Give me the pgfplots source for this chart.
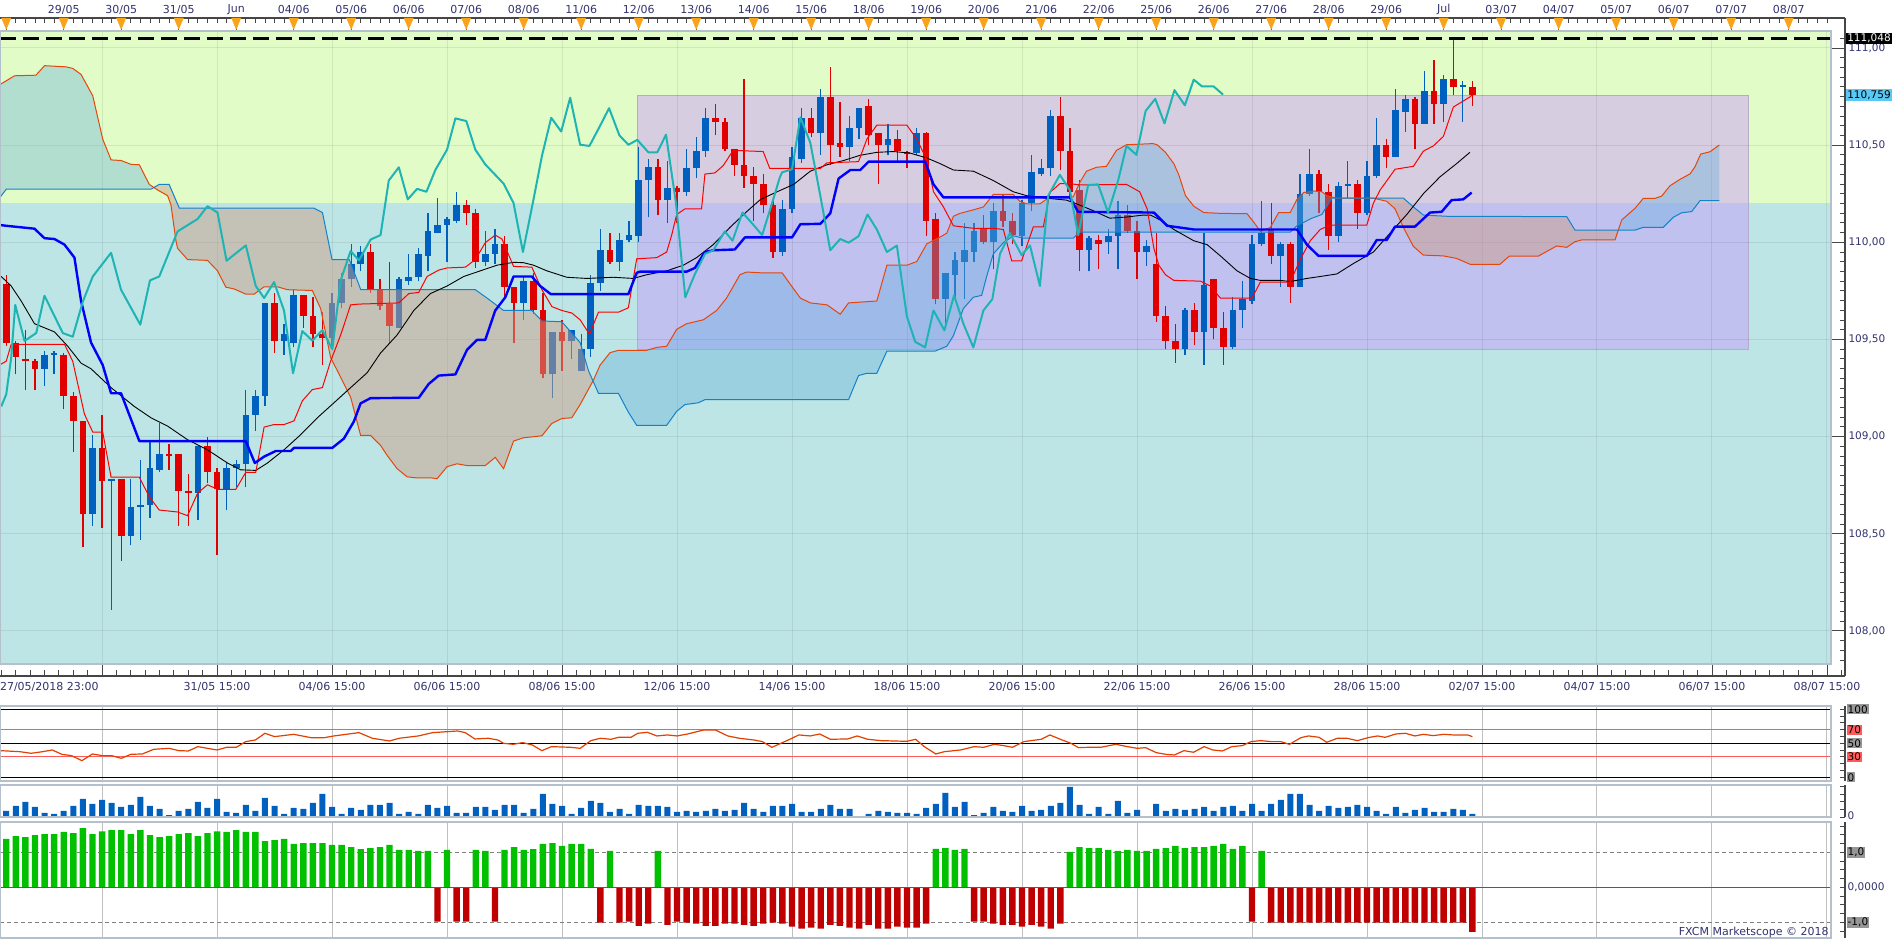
\documentclass[border=0pt]{standalone}
\usepackage{fontspec}
\setmainfont{DejaVu Sans}
\usepackage{pgfplots}
\usepackage{pgfplotstable}
\pgfplotsset{compat=1.18}
\definecolor{bgG}{RGB}{226,252,200}
\definecolor{bgC}{RGB}{189,229,229}
\definecolor{purp}{RGB}{200,150,255}
\definecolor{purpEdge}{RGB}{180,172,200}
\definecolor{bull}{RGB}{0,96,192}
\definecolor{bear}{RGB}{224,0,0}
\definecolor{tenkan}{RGB}{255,0,0}
\definecolor{kijun}{RGB}{0,0,255}
\definecolor{chikou}{RGB}{30,180,180}
\definecolor{spanO}{RGB}{230,70,10}
\definecolor{spanA}{RGB}{20,130,200}
\definecolor{cloudG}{RGB}{100,175,220}
\definecolor{cloudT}{RGB}{203,159,139}
\definecolor{navy}{RGB}{50,50,110}
\definecolor{frameC}{RGB}{180,192,204}
\definecolor{axisC}{RGB}{70,70,70}
\definecolor{rsiC}{RGB}{224,64,0}
\definecolor{histG}{RGB}{0,192,0}
\definecolor{histR}{RGB}{192,0,0}
\definecolor{lblBlue}{RGB}{90,200,245}
\definecolor{lblGray}{RGB}{150,150,150}
\definecolor{lblRed}{RGB}{255,90,90}
\definecolor{vgrid}{RGB}{192,192,192}
\definecolor{trif}{RGB}{248,163,28}
\newcommand{\lbl}{\fontsize{10.5}{12}\selectfont}

\pgfplotsset{cbase/.style={scale only axis, width=1845pt, xmin=-0.65, xmax=191.88,
  anchor=south west, clip=false,
  axis line style={axisC, line width=1.3pt},
  tick style={axisC, line width=0.9pt},
  tick align=inside,
  every tick label/.append style={font=\lbl, text=navy},
  /pgf/number format/assume math mode=true},
  nolabels/.style={yticklabels={,,,,,,,,,,,,,,,}},
  candle/.style={only marks, mark size=0pt, mark options={draw=none, fill=none}, forget plot}}

% candles: i open high low close
\pgfplotstableread{
i o h l c
4 109.35 109.44 109.26 109.42
5 109.42 109.44 109.32 109.43
9 108.60 109.01 108.54 108.94
11 108.77 108.78 108.11 108.78
13 108.49 108.78 108.44 108.64
14 108.64 108.88 108.47 108.65
15 108.65 108.98 108.58 108.84
16 108.83 109.07 108.82 108.91
20 108.71 108.95 108.57 108.95
23 108.73 108.87 108.62 108.84
24 108.84 108.88 108.74 108.86
25 108.86 109.24 108.74 109.11
26 109.11 109.24 109.03 109.21
27 109.21 109.69 109.16 109.69
29 109.49 109.58 109.42 109.53
30 109.48 109.76 109.46 109.73
34 109.51 109.74 109.47 109.69
35 109.69 109.84 109.66 109.81
36 109.81 109.99 109.77 109.89
37 109.89 109.98 109.85 109.95
41 109.56 109.82 109.56 109.81
42 109.80 109.94 109.78 109.82
43 109.82 109.97 109.80 109.94
44 109.93 110.15 109.85 110.06
45 110.05 110.23 110.05 110.09
46 110.09 110.13 109.90 110.12
47 110.11 110.26 110.10 110.19
50 109.90 110.06 109.88 109.94
51 109.94 110.07 109.89 109.99
54 109.69 109.82 109.60 109.80
57 109.32 109.54 109.20 109.54
59 109.49 109.55 109.40 109.55
60 109.34 109.53 109.34 109.45
61 109.45 109.83 109.41 109.79
62 109.79 110.07 109.75 109.96
64 109.90 110.05 109.85 110.01
65 110.01 110.11 110.00 110.04
66 110.03 110.49 110.00 110.32
67 110.32 110.43 110.13 110.39
69 110.22 110.42 110.10 110.28
71 110.26 110.48 110.24 110.38
72 110.38 110.54 110.33 110.47
73 110.47 110.69 110.44 110.64
81 109.95 110.22 109.93 110.17
82 110.17 110.49 110.15 110.44
83 110.43 110.69 110.41 110.64
85 110.56 110.79 110.45 110.75
88 110.49 110.65 110.42 110.59
89 110.59 110.69 110.53 110.69
92 110.50 110.61 110.45 110.53
95 110.46 110.59 110.45 110.56
98 109.71 109.84 109.56 109.84
99 109.83 109.95 109.72 109.91
100 109.90 110.10 109.71 109.96
101 109.95 110.10 109.90 110.06
103 110.00 110.20 109.86 110.16
106 110.03 110.22 109.98 110.20
107 110.20 110.45 110.16 110.36
108 110.35 110.43 110.34 110.38
109 110.38 110.68 110.34 110.65
113 109.96 110.03 109.85 110.02
115 110.00 110.07 109.94 110.03
116 110.03 110.21 109.86 110.14
119 109.95 110.01 109.88 109.98
123 109.45 109.66 109.42 109.65
125 109.54 110.05 109.37 109.78
128 109.46 109.72 109.45 109.65
129 109.65 109.80 109.56 109.71
130 109.70 110.04 109.68 109.99
131 109.99 110.21 109.98 110.05
133 109.93 110.00 109.77 109.99
135 109.77 110.35 109.77 110.25
136 110.25 110.48 110.24 110.35
139 110.03 110.31 110.00 110.29
140 110.29 110.42 110.23 110.30
142 110.15 110.42 110.14 110.34
143 110.34 110.64 110.33 110.50
145 110.44 110.79 110.44 110.68
146 110.67 110.76 110.57 110.74
148 110.61 110.88 110.61 110.78
150 110.71 110.86 110.62 110.84
152 110.80 110.83 110.62 110.805
}\bulltab
\pgfplotstableread{
i o h l c
0 109.785 109.83 109.465 109.48
1 109.48 109.49 109.32 109.41
2 109.40 109.55 109.24 109.39
3 109.39 109.40 109.24 109.35
6 109.42 109.43 109.14 109.21
7 109.21 109.23 108.92 109.08
8 109.08 109.08 108.43 108.60
10 108.94 109.11 108.53 108.77
12 108.78 108.78 108.36 108.49
17 108.91 108.96 108.83 108.90
18 108.91 108.91 108.54 108.72
19 108.72 108.81 108.54 108.71
21 108.95 109.00 108.76 108.82
22 108.82 108.84 108.39 108.73
28 109.69 109.74 109.43 109.49
31 109.73 109.73 109.56 109.62
32 109.62 109.72 109.46 109.53
33 109.53 109.64 109.37 109.51
38 109.95 109.99 109.74 109.76
39 109.76 109.81 109.65 109.67
40 109.68 109.90 109.48 109.57
48 110.19 110.22 110.09 110.15
49 110.15 110.17 109.87 109.90
52 109.99 110.03 109.72 109.77
53 109.77 109.77 109.48 109.69
55 109.80 109.84 109.63 109.65
56 109.65 109.74 109.30 109.32
58 109.54 109.60 109.34 109.49
63 109.96 110.05 109.89 109.90
68 110.39 110.43 110.14 110.22
70 110.28 110.29 110.10 110.26
74 110.64 110.71 110.55 110.62
75 110.62 110.64 110.47 110.48
76 110.48 110.48 110.34 110.40
77 110.40 110.84 110.28 110.34
78 110.34 110.39 110.11 110.30
79 110.30 110.35 110.15 110.19
80 110.19 110.21 109.92 109.95
84 110.64 110.69 110.54 110.56
86 110.75 110.90 110.40 110.50
87 110.51 110.72 110.44 110.49
90 110.70 110.74 110.50 110.55
91 110.56 110.56 110.30 110.50
93 110.53 110.58 110.42 110.47
94 110.46 110.47 110.38 110.455
96 110.56 110.57 110.03 110.11
97 110.12 110.15 109.68 109.71
102 110.07 110.14 109.99 110.00
104 110.16 110.25 110.08 110.11
105 110.11 110.15 109.99 110.04
110 110.65 110.75 110.37 110.47
111 110.47 110.59 110.23 110.26
112 110.27 110.32 109.85 109.96
114 110.01 110.04 109.86 109.99
117 110.14 110.19 110.05 110.06
118 110.06 110.11 109.81 109.95
120 109.89 110.05 109.59 109.62
121 109.62 109.67 109.45 109.49
122 109.49 109.58 109.38 109.45
124 109.65 109.69 109.47 109.54
126 109.81 109.81 109.50 109.56
127 109.56 109.64 109.37 109.46
132 110.07 110.20 109.89 109.93
134 109.99 110.00 109.69 109.77
137 110.35 110.37 110.15 110.26
138 110.26 110.30 109.96 110.03
141 110.30 110.32 110.07 110.15
144 110.50 110.53 110.38 110.44
147 110.74 110.75 110.48 110.61
149 110.78 110.94 110.61 110.71
151 110.84 111.05 110.76 110.80
153 110.80 110.83 110.70 110.76
}\beartab

\pgfplotstableread{
i p
-0.65 110.812
0.87 110.857
3.1 110.860
4.0 110.909
6.25 110.903
6.94 110.895
7.81 110.864
9.03 110.754
10.07 110.531
10.94 110.424
11.98 110.421
13.02 110.401
13.89 110.399
14.93 110.298
15.80 110.269
16.84 110.240
17.19 110.192
17.71 110.008
17.88 109.969
18.92 109.911
21.0 109.907
22.05 109.853
22.92 109.769
23.78 109.760
25.0 109.733
25.87 109.733
26.91 109.771
28.3 109.771
29.34 109.756
31.94 109.752
32.81 109.659
33.85 109.407
34.55 109.339
35.94 109.203
36.98 109.006
38.02 109.006
39.06 108.955
39.75 108.903
40.79 108.835
41.83 108.793
42.88 108.787
44.44 108.787
44.96 108.783
46.0 108.845
47.04 108.860
48.08 108.851
49.99 108.851
51.03 108.893
51.90 108.835
52.94 108.977
53.99 108.994
55.9 109.004
56.94 109.068
57.98 109.093
59.02 109.097
59.89 109.165
61.28 109.291
61.97 109.368
63.01 109.432
63.88 109.444
66.83 109.444
67.88 109.459
68.92 109.465
69.96 109.552
71.0 109.581
72.74 109.601
74.13 109.649
75.17 109.713
76.56 109.833
77.25 109.847
78.7 109.843
80.96 109.843
82.17 109.760
82.87 109.713
83.91 109.688
85.65 109.678
87.03 109.630
87.9 109.688
90.85 109.698
91.9 109.882
93.98 109.882
95.02 109.901
96.06 109.992
97.45 110.027
98.15 110.047
98.84 110.134
99.53 110.149
100.92 110.167
101.97 110.182
103.0 110.246
105.09 110.246
105.78 110.211
106.48 110.198
107.87 110.198
108.91 110.234
111.34 110.234
112.03 110.308
112.73 110.366
113.77 110.386
114.81 110.391
115.85 110.473
116.9 110.502
119.67 110.508
120.1 110.502
120.97 110.463
121.84 110.405
122.36 110.347
123.06 110.240
123.92 110.186
124.97 110.153
126.70 110.149
129.48 110.147
130.17 110.105
130.87 110.056
131.91 110.076
132.78 110.153
133.99 110.153
134.69 110.221
135.38 110.256
136.42 110.264
137.29 110.260
137.81 110.240
138.85 110.227
142.67 110.227
144.06 110.211
144.93 110.172
145.80 110.076
146.84 109.979
147.88 109.934
149.97 109.930
151.35 109.917
152.75 109.887
155.88 109.887
156.85 109.929
159.88 109.929
161.79 109.981
162.84 109.974
163.70 110.003
164.40 110.012
167.88 110.012
168.58 110.115
169.97 110.175
170.83 110.226
172.05 110.226
172.75 110.238
173.62 110.291
174.66 110.324
175.71 110.352
176.23 110.389
176.82 110.454
177.79 110.466
178.77 110.501
}\spanOtab

\pgfplotstableread{
i p
-0.65 110.231
0 110.273
15.1 110.273
15.97 110.298
17.0 110.298
18.06 110.176
32.1 110.176
33.0 110.153
34.0 109.911
35.8 109.911
37.0 109.756
48.95 109.756
50.17 109.713
51.90 109.649
54.85 109.649
55.9 109.595
57.98 109.591
59.89 109.484
60.76 109.339
61.80 109.223
63.88 109.223
64.92 109.126
65.79 109.058
68.92 109.058
69.96 109.130
70.83 109.165
72.22 109.174
72.91 109.190
87.9 109.190
88.94 109.314
89.81 109.326
90.85 109.326
91.9 109.440
96.93 109.440
98.15 109.465
98.84 109.519
99.88 109.659
100.92 109.717
101.79 109.727
102.31 109.824
103.0 109.940
104.05 109.998
105.09 110.033
106.13 110.021
111.34 110.021
112.03 110.052
133.99 110.052
134.69 110.085
136.25 110.124
137.29 110.143
138.33 110.227
145.8 110.227
146.84 110.182
147.88 110.140
150.31 110.134
162.84 110.132
163.70 110.063
169.97 110.063
170.83 110.077
172.92 110.077
173.97 110.129
174.84 110.152
175.88 110.158
176.75 110.214
178.77 110.214
}\spanAtab

\pgfplotstableread{
i p
-0.65 109.37
0 109.388
0.52 109.475
6.08 109.475
6.94 109.388
8.16 109.116
9.03 109.023
10.07 109.023
10.94 108.791
13.89 108.791
14.93 108.690
15.97 108.622
17.88 108.612
18.92 108.593
19.97 108.709
21.0 108.752
22.05 108.729
23.96 108.729
25.0 108.816
26.04 108.816
26.22 108.864
26.91 109.049
27.95 109.062
28.99 109.062
30.03 109.081
30.9 109.184
31.94 109.242
32.99 109.252
33.85 109.388
34.9 109.523
35.94 109.678
36.81 109.682
40.97 109.688
42.01 109.736
43.05 109.742
43.92 109.824
45.13 109.857
46.0 109.868
47.91 109.872
48.95 109.911
49.99 109.998
51.03 110.037
51.73 110.017
52.94 109.876
54.85 109.872
55.9 109.756
56.94 109.669
57.98 109.649
59.02 109.636
59.89 109.601
60.86 109.527
61.8 109.640
63.88 109.640
64.92 109.663
65.79 109.915
67.88 109.921
68.92 109.950
69.44 110.037
69.96 110.143
70.83 110.172
72.56 110.172
72.91 110.351
73.95 110.357
74.82 110.395
75.86 110.473
78.99 110.467
79.68 110.380
84.95 110.380
85.65 110.409
88.94 110.415
89.81 110.531
90.85 110.603
93.98 110.603
95.02 110.531
96.06 110.424
96.76 110.260
97.8 110.182
98.84 110.085
100.92 110.072
103.0 110.072
104.05 110.066
104.92 109.905
105.96 109.905
107.18 110.079
108.22 110.079
108.91 110.256
109.95 110.302
110.99 110.302
112.03 110.295
116.9 110.298
118.28 110.260
119.06 110.172
119.76 109.969
120.28 109.882
120.97 109.833
121.84 109.804
124.62 109.800
125.66 109.775
126.7 109.713
130.0 109.713
130.87 109.795
133.99 109.795
135.03 109.911
136.08 110.008
137.12 110.066
138.16 110.089
141.98 110.089
142.67 110.202
143.37 110.269
144.93 110.376
146.84 110.391
147.88 110.469
148.92 110.496
149.97 110.545
151.01 110.696
152.74 110.748
153.0 110.76
}\tenkantab

\pgfplotstableread{
i p
-0.65 110.089
0 110.085
2.95 110.070
3.99 110.021
5.03 110.017
6.08 109.988
7.12 109.921
7.81 109.698
8.85 109.484
10.07 109.368
10.94 109.223
11.98 109.223
13.89 108.977
25.0 108.977
25.94 108.864
26.91 108.897
28.13 108.926
29.69 108.926
30.03 108.942
34.03 108.942
35.24 108.990
36.28 109.078
36.98 109.171
38.02 109.198
43.05 109.200
44.09 109.271
45.13 109.314
46.87 109.320
48.08 109.446
49.13 109.498
49.99 109.498
51.03 109.649
52.08 109.717
52.94 109.824
54.85 109.824
55.72 109.775
56.83 109.733
64.92 109.733
65.79 109.843
66.14 109.849
71.0 109.849
71.87 109.868
72.91 109.950
73.78 109.959
76.03 109.963
77.08 110.025
82.0 110.025
82.87 110.093
84.95 110.095
85.99 110.149
86.86 110.328
88.08 110.372
89.12 110.372
89.99 110.415
95.89 110.415
96.76 110.298
97.8 110.231
110.99 110.231
111.85 110.157
119.76 110.153
121.15 110.085
123.92 110.066
134.69 110.066
135.73 109.988
136.94 109.930
141.98 109.930
143.02 110.012
144.06 110.012
144.93 110.081
147.01 110.081
148.58 110.153
149.79 110.157
150.83 110.217
152.05 110.221
152.92 110.256
}\kijuntab

\pgfplotstableread{
i p
-0.52 109.824
0.52 109.775
1.56 109.698
2.95 109.581
5.03 109.539
6.42 109.465
7.81 109.378
8.85 109.349
10.94 109.252
13.37 109.155
15.1 109.097
16.84 109.054
18.92 108.984
21.0 108.932
23.09 108.864
24.48 108.829
26.04 108.826
27.26 108.864
28.99 108.932
30.73 109.010
32.47 109.097
34.2 109.174
35.94 109.252
37.67 109.329
39.06 109.430
40.79 109.523
42.53 109.649
44.26 109.736
46.0 109.775
47.74 109.824
49.47 109.853
51.21 109.882
52.94 109.897
53.99 109.895
55.03 109.882
56.42 109.853
58.5 109.820
60.58 109.814
63.36 109.820
65.44 109.814
66.83 109.833
68.92 109.853
70.65 109.882
72.04 109.921
73.78 109.988
75.51 110.076
77.25 110.157
78.7 110.22
80.44 110.26
82.17 110.298
83.91 110.366
85.65 110.399
87.38 110.421
89.12 110.448
90.85 110.463
92.59 110.467
94.33 110.459
96.06 110.434
97.45 110.405
98.84 110.372
100.92 110.366
103.0 110.318
105.09 110.260
106.48 110.240
108.56 110.227
110.64 110.217
111.69 110.198
113.42 110.163
115.16 110.124
116.9 110.130
118.63 110.140
119.41 110.140
120.45 110.114
121.84 110.066
123.92 110.008
125.31 109.988
126.7 109.930
128.44 109.853
129.83 109.814
130.87 109.804
132.95 109.804
133.99 109.798
135.73 109.814
137.12 109.824
138.85 109.837
140.59 109.891
142.67 109.950
144.41 110.047
146.15 110.143
147.88 110.250
149.62 110.337
151.35 110.405
152.74 110.463
}\smatab

\pgfplotstableread{
i p
-0.52 109.155
0 109.217
0.52 109.407
0.94 109.678
1.91 109.492
3.13 109.533
3.99 109.725
5.9 109.533
6.94 109.514
7.99 109.694
9.03 109.824
10.94 109.946
11.98 109.756
13.99 109.576
15.0 109.804
15.97 109.824
17.88 110.056
19.97 110.120
21.0 110.186
22.05 110.153
22.99 109.905
25.0 109.984
26.04 109.775
26.91 109.713
27.95 109.795
28.99 109.649
29.93 109.326
30.9 109.543
31.94 109.494
32.99 109.548
34.03 109.450
34.9 109.804
35.94 109.955
36.81 109.907
38.02 110.014
39.06 110.037
39.92 110.318
40.97 110.386
41.9 110.221
42.88 110.275
43.85 110.260
44.78 110.372
46.0 110.477
46.87 110.638
48.01 110.624
48.95 110.477
49.99 110.401
51.9 110.302
52.94 110.202
53.92 109.950
54.95 110.202
55.9 110.444
56.87 110.641
57.91 110.570
58.85 110.744
59.89 110.502
60.86 110.496
61.9 110.593
62.91 110.690
63.99 110.550
64.92 110.502
65.86 110.527
67.01 110.463
67.94 110.463
68.85 110.554
69.89 110.202
70.86 109.717
71.87 109.837
72.91 109.940
73.78 109.959
74.99 110.056
75.79 110.008
76.83 110.153
77.88 110.095
78.88 110.037
79.86 110.192
80.72 110.333
80.96 110.360
82.0 110.376
82.87 110.643
83.91 110.512
84.95 110.240
85.99 109.959
87.03 110.017
87.9 109.998
88.94 110.031
89.88 110.143
90.85 110.066
91.9 109.950
92.94 109.983
93.98 109.620
94.85 109.488
95.89 109.459
96.76 109.649
97.9 109.547
98.91 109.727
99.88 109.581
100.92 109.459
101.97 109.649
102.9 109.707
103.7 109.940
104.74 110.047
105.96 109.934
106.83 109.984
107.87 109.775
108.73 110.240
109.95 110.347
110.99 110.269
111.86 110.037
112.9 110.295
113.94 110.298
114.98 110.153
116.03 110.318
116.9 110.496
117.94 110.450
118.9 110.676
119.9 110.738
120.87 110.612
121.91 110.783
122.99 110.705
123.92 110.837
124.79 110.802
126.0 110.802
126.98 110.760
}\chikoutab

\pgfplotstableread{
i v
-0.6 39.2
1.4 37.7
2.6 35.3
3.8 37.7
4.8 40.2
5.8 33.8
6.8 31.9
7.9 24.5
9.0 34.3
10 31.9
11 31.9
12 27.9
13 33.8
14.2 34.3
15.4 41.2
17 42.6
18 39.2
19 38.7
20 45.1
21 42.6
22 40.2
23 44.1
24 44.1
25 52.5
26 54.9
27 64.7
28 59.8
30 63.2
31.8 58.3
33.2 58.3
34.2 60.8
36.8 65.7
38.2 57.4
40 53.4
41 57.4
43 60.8
44.5 65.7
47.1 68.1
47.9 65.7
48.9 56.4
50.3 57.4
51.3 54.9
51.9 50.0
52.9 48.5
53.9 51.0
54.9 47.5
55.9 39.2
56.9 45.1
58.9 44.1
59.9 42.6
61.0 53.9
62.0 57.4
63.1 55.9
63.9 58.8
65.2 58.8
65.9 64.7
66.9 66.2
67.9 60.8
69.0 62.3
70.0 60.8
71.1 63.7
72.8 69.6
74.0 69.6
75.3 60.8
76.5 57.4
78.0 54.9
78.9 52.5
79.9 44.1
81.0 51.0
82.0 57.4
82.7 62.3
83.9 60.8
84.9 63.7
86.0 55.9
87.8 56.4
88.8 60.8
89.9 55.9
91.3 53.9
94.0 52.9
94.9 55.9
95.8 45.1
97.0 34.3
97.9 37.7
99.6 40.2
101.0 45.1
102.0 44.1
103.1 48.5
104.1 46.6
105.0 44.1
106.2 52.5
108.0 55.9
108.9 62.3
110.0 55.9
111.1 50.0
111.9 43.6
112.9 44.1
114.2 44.1
115.8 48.5
117.0 45.1
118.0 42.6
118.9 43.6
120.0 36.3
121.0 33.8
121.9 32.8
122.9 39.2
123.9 36.8
125.0 45.1
125.9 40.2
126.9 38.7
127.9 45.1
129.0 46.6
129.9 52.5
130.9 53.9
132.0 52.5
133.0 52.5
133.9 48.5
135.1 58.3
135.9 60.8
137.0 58.8
137.8 51.5
138.9 57.4
139.9 57.4
141.0 53.9
142.1 58.3
143.1 60.8
143.9 58.8
145.0 63.7
146.0 64.7
147.0 60.8
147.9 63.2
148.9 61.3
150.0 63.2
151.0 62.3
152.5 62.3
153.0 59.8
}\rsitab

\pgfplotstableread{
i v
0 18
1 33
2 45
3 30
4 12
5 9
6 18
7 33
8 54
9 39
10 51
11 42
12 30
13 36
14 60
15 33
16 24
17 6
18 18
19 24
20 45
21 27
22 54
23 15
24 12
25 36
26 18
27 57
28 33
29 9
30 27
31 24
32 42
33 69
34 30
35 9
36 27
37 21
38 36
39 36
40 42
41 9
42 15
43 9
44 36
45 27
46 33
47 12
48 12
49 30
50 30
51 21
52 36
53 36
54 12
55 24
56 69
57 39
58 33
59 9
60 27
61 48
62 42
63 15
64 24
65 9
66 36
67 33
68 33
69 30
70 15
71 18
72 15
73 18
74 24
75 18
76 21
77 42
78 24
79 15
80 33
81 33
82 39
83 15
84 15
85 24
86 36
87 24
88 24
89 3
90 9
91 18
92 15
93 12
94 12
95 9
96 27
97 39
98 72
99 30
100 45
101 6
102 12
103 30
104 18
105 15
106 33
107 18
108 21
109 33
110 42
111 90
112 36
113 9
114 30
115 9
116 48
117 12
118 21
119 3
120 39
121 18
122 24
123 21
124 24
125 30
126 18
127 30
128 33
129 18
130 39
131 18
132 39
133 51
134 69
135 69
136 36
137 18
138 33
139 27
140 30
141 36
142 30
143 18
144 9
145 30
146 12
147 21
148 27
149 15
150 15
151 24
152 21
153 9
}\voltab

\pgfplotstableread{
i v
0 1.38
1 1.46
2 1.43
3 1.49
4 1.52
5 1.52
6 1.58
7 1.55
8 1.69
9 1.52
10 1.60
11 1.63
12 1.63
13 1.52
14 1.63
15 1.49
16 1.43
17 1.46
18 1.52
19 1.55
20 1.46
21 1.55
22 1.60
23 1.58
24 1.63
25 1.58
26 1.58
27 1.32
28 1.35
29 1.38
30 1.24
31 1.26
32 1.26
33 1.26
34 1.21
35 1.21
36 1.15
37 1.09
38 1.12
39 1.15
40 1.21
41 1.07
42 1.07
43 1.04
44 1.04
46 1.07
49 1.07
50 1.04
52 1.07
53 1.15
54 1.07
55 1.09
56 1.24
57 1.26
58 1.18
59 1.24
60 1.24
61 1.10
63 1.04
68 1.04
97 1.10
98 1.12
99 1.07
100 1.10
111 1.01
112 1.15
113 1.12
114 1.12
115 1.07
116 1.04
117 1.07
118 1.04
119 1.04
120 1.10
121 1.12
122 1.18
123 1.12
124 1.15
125 1.15
126 1.18
127 1.24
128 1.10
129 1.18
131 1.04
}\hgreentab

\pgfplotstableread{
i v
45 -0.98
47 -0.98
48 -0.98
51 -0.98
62 -1.01
64 -1.01
65 -0.98
66 -1.10
67 -1.04
69 -1.07
70 -0.98
71 -1.01
72 -1.04
73 -1.10
74 -1.10
75 -1.04
76 -1.04
77 -1.07
78 -1.10
79 -1.04
80 -1.01
81 -1.04
82 -1.12
83 -1.18
84 -1.15
85 -1.18
86 -1.07
87 -1.10
88 -1.15
89 -1.18
90 -1.07
91 -1.18
92 -1.18
93 -1.12
94 -1.15
95 -1.15
96 -1.04
101 -0.98
102 -0.98
103 -1.04
104 -1.07
105 -1.07
106 -1.12
107 -1.07
108 -1.12
109 -1.18
110 -1.04
130 -0.98
132 -1.01
133 -1.01
134 -1.01
135 -1.01
136 -1.01
137 -1.01
138 -1.01
139 -1.01
140 -1.01
141 -1.01
142 -1.01
143 -1.01
144 -1.01
145 -1.01
146 -1.01
147 -1.01
148 -1.01
149 -1.01
150 -1.01
151 -1.01
152 -1.01
153 -1.27
}\hredtab

\begin{document}
\begin{tikzpicture}
\useasboundingbox (0,0) rectangle (1903pt,940pt);

% ================= MAIN PRICE PANEL =================
\begin{axis}[cbase, at={(0pt,264pt)}, height=658pt,
  ymin=107.7679, ymax=111.1544,
  axis x line*=bottom, axis y line*=right,
  major tick length=13pt, minor tick length=5.5pt,
  xtick={10,22,...,190},
  xticklabels={,31/05 15:00,04/06 15:00,06/06 15:00,08/06 15:00,12/06 15:00,14/06 15:00,18/06 15:00,20/06 15:00,22/06 15:00,26/06 15:00,28/06 15:00,02/07 15:00,04/07 15:00,06/07 15:00,08/07 15:00},
  minor xtick={-0.5,1,...,191},
  xticklabel style={font=\fontsize{11}{13}\selectfont, yshift=-3pt},
  ytick={108,108.5,109,109.5,110,110.5,111},
  minor ytick={107.85,107.9,107.95,108.05,108.1,108.15,108.2,108.25,108.3,108.35,108.4,108.45,108.55,108.6,108.65,108.7,108.75,108.8,108.85,108.9,108.95,109.05,109.1,109.15,109.2,109.25,109.3,109.35,109.4,109.45,109.55,109.6,109.65,109.7,109.75,109.8,109.85,109.9,109.95,110.05,110.1,110.15,110.2,110.25,110.3,110.35,110.4,110.45,110.55,110.6,110.65,110.7,110.75,110.8,110.85,110.9,110.95,111.05},
  yticklabel style={/pgf/number format/.cd, fixed, fixed zerofill, precision=2, use comma},
]
% backgrounds
\fill[bgG] (axis cs:-0.65,110.2) rectangle (axis cs:190.42,111.0875);
\fill[bgC] (axis cs:-0.65,107.83) rectangle (axis cs:190.42,110.2);
% purple zone
\fill[purp, fill opacity=0.45] (axis cs:65.86,109.45) rectangle (axis cs:181.8,110.755);
\draw[purpEdge, line width=1pt] (axis cs:65.86,109.45) rectangle (axis cs:181.8,110.755);
% grid
\pgfplotsinvokeforeach{10,22,...,190}{\draw[black, opacity=0.08, line width=1pt] (axis cs:#1,107.83) -- (axis cs:#1,111.0875);}
\pgfplotsinvokeforeach{108,108.5,109,109.5,110,110.5,111}{\draw[black, opacity=0.08, line width=1pt] (axis cs:-0.65,#1) -- (axis cs:190.42,#1);}

% candles: wicks
\addplot[candle, error bars/.cd, y dir=plus, y explicit, error mark=none,
  error bar style={line width=1.3pt, draw=bull}]
  table[x=i, y=l, y error plus expr={\thisrow{h}-\thisrow{l}}] {\bulltab};
\addplot[candle, error bars/.cd, y dir=plus, y explicit, error mark=none,
  error bar style={line width=1.3pt, draw=bear}]
  table[x=i, y=l, y error plus expr={\thisrow{h}-\thisrow{l}}] {\beartab};
% candles: bodies
\addplot[candle, error bars/.cd, y dir=plus, y explicit, error mark=none,
  error bar style={line width=6.6pt, draw=bull}]
  table[x=i, y=o, y error plus expr={max(\thisrow{c}-\thisrow{o},0.008)}] {\bulltab};
\addplot[candle, error bars/.cd, y dir=plus, y explicit, error mark=none,
  error bar style={line width=6.6pt, draw=bear}]
  table[x=i, y=c, y error plus expr={max(\thisrow{o}-\thisrow{c},0.008)}] {\beartab};

% cloud segments (one span forward, the other backward)
\addplot[fill=cloudG, fill opacity=0.38, draw=none, forget plot] coordinates {
(-0.65,110.812) (0.87,110.857) (3.1,110.860) (4.0,110.909) (6.25,110.903) (6.94,110.895) (7.81,110.864) (9.03,110.754) (10.07,110.531) (10.94,110.424) (11.98,110.421) (13.02,110.401) (13.89,110.399) (14.93,110.298) (15.3,110.283)
(15.1,110.273) (0,110.273) (-0.65,110.231)};
\addplot[fill=cloudT, fill opacity=0.5, draw=none, forget plot] coordinates {
(15.3,110.283) (15.80,110.269) (16.84,110.240) (17.19,110.192) (17.71,110.008) (17.88,109.969) (18.92,109.911) (21.0,109.907) (22.05,109.853) (22.92,109.769) (23.78,109.760) (25.0,109.733) (25.87,109.733) (26.91,109.771) (28.3,109.771) (29.34,109.756) (31.94,109.752) (32.81,109.659) (33.85,109.407) (34.55,109.339) (35.94,109.203) (36.98,109.006) (38.02,109.006) (39.06,108.955) (39.75,108.903) (40.79,108.835) (41.83,108.793) (42.88,108.787) (44.44,108.787) (44.96,108.783) (46.0,108.845) (47.04,108.860) (48.08,108.851) (49.99,108.851) (51.03,108.893) (51.90,108.835) (52.94,108.977) (53.99,108.994) (55.9,109.004) (56.94,109.068) (57.98,109.093) (59.02,109.097) (59.89,109.165) (61.25,109.285)
(60.76,109.339) (59.89,109.484) (57.98,109.591) (55.9,109.595) (54.85,109.649) (51.90,109.649) (50.17,109.713) (48.95,109.756) (37.0,109.756) (35.8,109.911) (34.0,109.911) (33.0,110.153) (32.1,110.176) (18.06,110.176) (17.0,110.298) (15.97,110.298)};
\addplot[fill=cloudG, fill opacity=0.38, draw=none, forget plot] coordinates {
(61.25,109.285) (61.97,109.368) (63.01,109.432) (63.88,109.444) (66.83,109.444) (67.88,109.459) (68.92,109.465) (69.96,109.552) (71.0,109.581) (72.74,109.601) (74.13,109.649) (75.17,109.713) (76.56,109.833) (77.25,109.847) (78.7,109.843) (80.96,109.843) (82.17,109.760) (82.87,109.713) (83.91,109.688) (85.65,109.678) (87.03,109.630) (87.9,109.688) (90.85,109.698) (91.9,109.882) (93.98,109.882) (95.02,109.901) (96.06,109.992) (97.45,110.027) (98.15,110.047) (98.84,110.134) (99.53,110.149) (100.92,110.167) (101.97,110.182) (103.0,110.246) (105.09,110.246) (105.78,110.211) (106.48,110.198) (107.87,110.198) (108.91,110.234) (111.34,110.234) (112.03,110.308) (112.73,110.366) (113.77,110.386) (114.81,110.391) (115.85,110.473) (116.9,110.502) (119.67,110.508) (120.1,110.502) (120.97,110.463) (121.84,110.405) (122.36,110.347) (123.06,110.240) (123.92,110.186) (124.97,110.153) (126.70,110.149) (129.48,110.147) (130.17,110.105) (130.87,110.056) (131.91,110.076) (132.78,110.153) (133.99,110.153) (134.69,110.221) (135.38,110.256) (136.42,110.264) (137.29,110.260) (137.81,110.240) (138.85,110.227) (142.67,110.227)
(138.33,110.227) (137.29,110.143) (136.25,110.124) (134.69,110.085) (133.99,110.052) (112.03,110.052) (111.34,110.021) (106.13,110.021) (105.09,110.033) (104.05,109.998) (103.0,109.940) (102.31,109.824) (101.79,109.727) (100.92,109.717) (99.88,109.659) (98.84,109.519) (98.15,109.465) (96.93,109.440) (91.9,109.440) (90.85,109.326) (89.81,109.326) (88.94,109.314) (87.9,109.190) (72.91,109.190) (72.22,109.174) (70.83,109.165) (69.96,109.130) (68.92,109.058) (65.79,109.058) (64.92,109.126) (63.88,109.223) (61.80,109.223)};
\addplot[fill=cloudT, fill opacity=0.5, draw=none, forget plot] coordinates {
(142.67,110.227) (144.06,110.211) (144.93,110.172) (145.80,110.076) (146.84,109.979) (147.88,109.934) (149.97,109.930) (151.35,109.917) (152.75,109.887) (155.88,109.887) (156.85,109.929) (159.88,109.929) (161.79,109.981) (162.84,109.974) (163.70,110.003) (164.40,110.012) (167.88,110.012) (168.23,110.063)
(163.70,110.063) (162.84,110.132) (150.31,110.134) (147.88,110.140) (146.84,110.182) (145.8,110.227)};
\addplot[fill=cloudG, fill opacity=0.38, draw=none, forget plot] coordinates {
(168.23,110.063) (168.58,110.115) (169.97,110.175) (170.83,110.226) (172.05,110.226) (172.75,110.238) (173.62,110.291) (174.66,110.324) (175.71,110.352) (176.23,110.389) (176.82,110.454) (177.79,110.466) (178.77,110.501)
(178.77,110.214) (176.75,110.214) (175.88,110.158) (174.84,110.152) (173.97,110.129) (172.92,110.077) (170.83,110.077) (169.97,110.063)};

% lines
\addplot[spanO, line width=1pt, mark=none] table {\spanOtab};
\addplot[spanA, line width=1pt, mark=none] table {\spanAtab};
\addplot[black, line width=0.9pt, mark=none] table {\smatab};
\addplot[tenkan, line width=1pt, mark=none] table {\tenkantab};
\addplot[kijun, line width=2.4pt, mark=none, line join=round] table {\kijuntab};
\addplot[chikou, line width=2pt, mark=none, line join=round] table {\chikoutab};

% resistance dashed line
\draw[black, line width=2.6pt, dash pattern=on 16pt off 7pt] (axis cs:-0.65,111.048) -- (axis cs:190.42,111.048);

% frame
\draw[frameC, line width=2pt] (axis cs:-0.65,107.83) rectangle (axis cs:190.42,111.0875);

% price boxes
\node[fill=black, text=white, anchor=west, inner sep=1.3pt, font=\lbl] at ([xshift=0.8pt]axis cs:191.88,111.048) {111,048};
\node[fill=lblBlue, text=black, anchor=west, inner sep=1.3pt, font=\lbl] at ([xshift=0.8pt]axis cs:191.88,110.759) {110,759};
% first bottom label
\node[anchor=north west, font=\fontsize{11}{13}\selectfont, text=navy, xshift=-3.5pt, yshift=-3pt] at (axis cs:-0.65,107.7679) {27/05/2018 23:00};
\end{axis}

% ================= TOP DATE AXIS =================
\begin{axis}[cbase, at={(0pt,264pt)}, height=658pt,
  ymin=107.7679, ymax=111.1544,
  axis x line*=top, axis y line=none, axis on top,
  major tick length=12pt, minor tick length=5pt,
  xtick={0,6,...,186},
  xticklabels={,29/05,30/05,31/05,Jun,04/06,05/06,06/06,07/06,08/06,11/06,12/06,13/06,14/06,15/06,18/06,19/06,20/06,21/06,22/06,25/06,26/06,27/06,28/06,29/06,Jul,03/07,04/07,05/07,06/07,07/07,08/07},
  minor xtick={0,1,...,190},
  xticklabel style={font=\fontsize{11}{13}\selectfont, yshift=0pt},
]
\addplot[only marks, mark=triangle*, mark size=7.5pt,
  mark options={yscale=-1, xscale=0.72, fill=trif, draw=trif}]
  coordinates {(0,111.1351) (6,111.1351) (12,111.1351) (18,111.1351) (24,111.1351) (30,111.1351) (36,111.1351) (42,111.1351) (48,111.1351) (54,111.1351) (60,111.1351) (66,111.1351) (72,111.1351) (78,111.1351) (84,111.1351) (90,111.1351) (96,111.1351) (102,111.1351) (108,111.1351) (114,111.1351) (120,111.1351) (126,111.1351) (132,111.1351) (138,111.1351) (144,111.1351) (150,111.1351) (156,111.1351) (162,111.1351) (168,111.1351) (174,111.1351) (180,111.1351) (186,111.1351)};
\end{axis}

% ================= RSI PANEL =================
\begin{axis}[cbase, nolabels, at={(0pt,159.3pt)}, height=75pt,
  ymin=-5, ymax=105.3,
  axis x line=none, axis y line*=right,
  major tick length=5pt,
  ytick={0,10,...,100},
]
\pgfplotsinvokeforeach{10,22,...,190}{\draw[vgrid, line width=1pt] (axis cs:#1,-5) -- (axis cs:#1,105.3);}
\draw[black, line width=1.3pt] (axis cs:-0.65,100) -- (axis cs:190.42,100);
\draw[black, line width=1.3pt] (axis cs:-0.65,50) -- (axis cs:190.42,50);
\draw[black, line width=1.3pt] (axis cs:-0.65,0) -- (axis cs:190.42,0);
\draw[lblRed, line width=1pt] (axis cs:-0.65,70) -- (axis cs:190.42,70);
\draw[lblRed, line width=1pt] (axis cs:-0.65,30) -- (axis cs:190.42,30);
\addplot[rsiC, line width=1.2pt, mark=none] table {\rsitab};
\draw[frameC, line width=2pt] (axis cs:-0.65,-5) rectangle (axis cs:190.42,105.3);
\node[fill=lblGray, text=black, anchor=west, inner sep=1pt, font=\lbl] at ([xshift=1.5pt]axis cs:191.88,100) {100};
\node[fill=lblRed, text=black, anchor=west, inner sep=1pt, font=\lbl] at ([xshift=1.5pt]axis cs:191.88,70) {70};
\node[fill=lblGray, text=black, anchor=west, inner sep=1pt, font=\lbl] at ([xshift=1.5pt]axis cs:191.88,50) {50};
\node[fill=lblRed, text=black, anchor=west, inner sep=1pt, font=\lbl] at ([xshift=1.5pt]axis cs:191.88,30) {30};
\node[fill=lblGray, text=black, anchor=west, inner sep=1pt, font=\lbl] at ([xshift=1.5pt]axis cs:191.88,0) {0};
\end{axis}

% ================= VOLUME PANEL =================
\begin{axis}[cbase, nolabels, at={(0pt,123pt)}, height=32pt,
  ymin=0, ymax=96,
  axis x line=none, axis y line*=right,
  major tick length=5pt,
  ytick={0,23,46,69,92},
]
\pgfplotsinvokeforeach{10,22,...,190}{\draw[vgrid, line width=1pt] (axis cs:#1,0) -- (axis cs:#1,96);}
\addplot[ybar, bar width=6pt, bar shift=0pt, fill=bull, draw=none] table {\voltab};
\draw[frameC, line width=2pt] (axis cs:-0.65,0) rectangle (axis cs:190.42,96);
\node[text=navy, anchor=west, inner sep=1pt, font=\lbl] at ([xshift=1.5pt]axis cs:191.88,3) {0};
\end{axis}

% ================= HISTOGRAM PANEL =================
\begin{axis}[cbase, nolabels, at={(0pt,1.7pt)}, height=116.6pt,
  ymin=-1.457, ymax=1.874,
  axis x line=none, axis y line*=right,
  major tick length=5pt,
  ytick={-1.25,-1,-0.75,-0.5,-0.25,0,0.25,0.5,0.75,1,1.25,1.5,1.75},
]
\pgfplotsinvokeforeach{10,22,...,190}{\draw[vgrid, line width=1pt] (axis cs:#1,-1.457) -- (axis cs:#1,1.874);}
\draw[gray, line width=1pt, dash pattern=on 4pt off 3pt] (axis cs:-0.65,1) -- (axis cs:190.42,1);
\draw[gray, line width=1pt, dash pattern=on 4pt off 3pt] (axis cs:-0.65,-1) -- (axis cs:190.42,-1);
\addplot[ybar, bar width=6.4pt, bar shift=0pt, fill=histG, draw=none] table {\hgreentab};
\addplot[ybar, bar width=6.4pt, bar shift=0pt, fill=histR, draw=none] table {\hredtab};
\draw[histG!80!black, line width=1.2pt] (axis cs:-0.65,0) -- (axis cs:190.42,0);
\draw[frameC, line width=2pt] (axis cs:-0.65,-1.457) rectangle (axis cs:190.42,1.874);
\node[fill=lblGray, text=black, anchor=west, inner sep=1pt, font=\lbl] at ([xshift=1.5pt]axis cs:191.88,1) {1,0};
\node[text=navy, anchor=west, inner sep=1pt, font=\lbl] at ([xshift=1.5pt]axis cs:191.88,0) {0,0000};
\node[fill=lblGray, text=black, anchor=west, inner sep=1pt, font=\lbl] at ([xshift=1.5pt]axis cs:191.88,-1) {-1,0};
\node[text=navy, anchor=east, inner sep=0pt, font=\fontsize{11}{13}\selectfont] at (axis cs:190.2,-1.28) {FXCM Marketscope © 2018};
\end{axis}
\end{tikzpicture}
\end{document}
